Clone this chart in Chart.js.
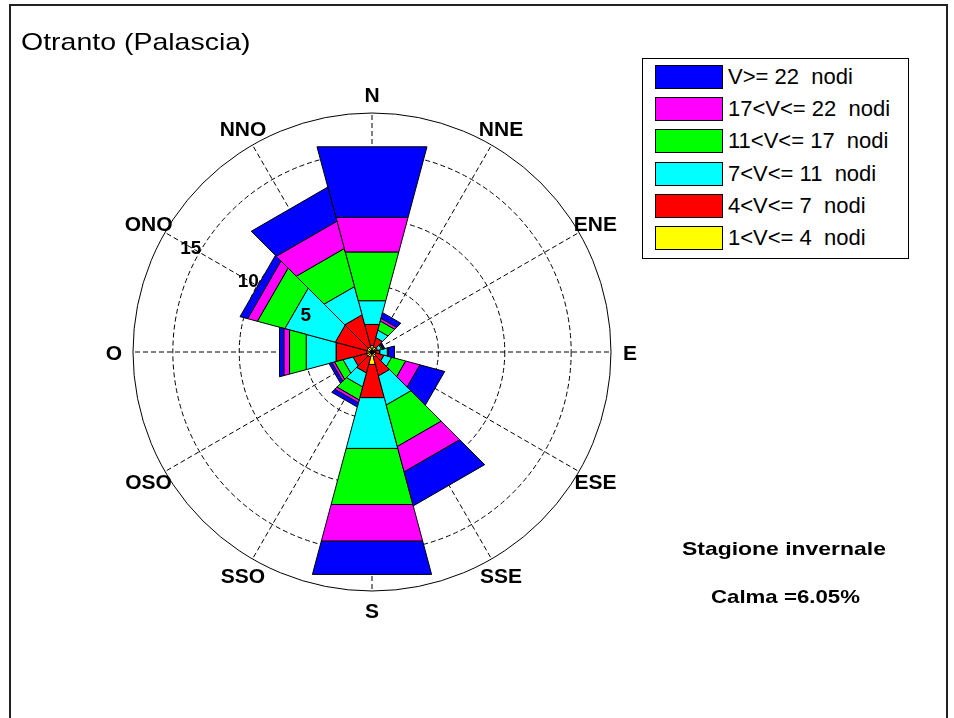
<!DOCTYPE html>
<html>
<head>
<meta charset="utf-8">
<script src="https://cdn.jsdelivr.net/npm/chart.js@4.4.1/dist/chart.umd.min.js"></script>
<style>
  html, body { margin: 0; padding: 0; background: #fff; width: 954px; height: 718px; overflow: hidden;
    font-family: "Liberation Sans", Arial, sans-serif; color: #000; }
  #frame { position: absolute; left: 9px; top: 4px; width: 939px; height: 800px;
    border: 2px solid #222; border-bottom: none; box-sizing: border-box; }
  #wrap { position: absolute; left: 0; top: 0; width: 954px; height: 718px; }
  .txt { position: absolute; white-space: pre; transform-origin: 0 0; }
  #title { left: 20.5px; top: 29.7px; font-size: 24px; line-height: 24px; transform: scaleX(1.187); }
  #season { left: 682px; top: 538.9px; font-size: 19px; line-height: 19px; font-weight: bold; transform: scaleX(1.207); }
  #calm { left: 711px; top: 587.4px; font-size: 19px; line-height: 19px; font-weight: bold; transform: scaleX(1.17); }
  #legend { position: absolute; left: 642px; top: 58px; width: 267px; height: 201px;
    border: 1px solid #000; box-sizing: border-box; background: #fff; }
  .lg-box { position: absolute; left: 12px; width: 68px; height: 24px; border: 1px solid #000; box-sizing: border-box; }
  .lg-txt { position: absolute; left: 85px; font-size: 22px; line-height: 24px; white-space: pre; }
</style>
</head>
<body>
<div id="frame"></div>
<div id="wrap"><canvas id="c"></canvas></div>
<div id="title" class="txt"></div>
<div id="season" class="txt"></div>
<div id="calm" class="txt"></div>
<div id="legend"></div>
<script>
// ---------------- data ----------------
const directions = ['N', 'NNE', 'ENE', 'E', 'ESE', 'SSE', 'S', 'SSO', 'OSO', 'O', 'ONO', 'NNO'];
const classLabels = ['V>= 22  nodi', '17<V<= 22  nodi', '11<V<= 17  nodi', '7<V<= 11  nodi', '4<V<= 7  nodi', '1<V<= 4  nodi'];
const classColors = ['#0000FF', '#FF00FF', '#00FF00', '#00FFFF', '#FF0000', '#FFFF00'];
// frequency (%) per direction for each speed class (outermost class first)
const freqOver22  = [5.50, 0.44, 0.10, 0.46, 1.93, 2.65, 2.59, 0.32, 0.23, 0.34, 0.59, 2.66];
const freq17to22  = [2.70, 0.21, 0.05, 0.04, 1.11, 1.98, 2.86, 0.23, 0.20, 0.44, 0.76, 2.13];
const freq11to17  = [3.80, 0.71, 0.10, 0.05, 1.09, 3.23, 4.37, 1.01, 0.66, 1.30, 2.14, 2.97];
const freq7to11   = [1.85, 0.59, 0.30, 0.58, 0.60, 2.27, 3.96, 1.09, 0.78, 2.33, 3.94, 2.20];
const freq4to7    = [1.65, 0.72, 0.25, 0.37, 0.64, 1.47, 2.59, 1.24, 1.03, 2.40, 2.46, 2.50];
const freq1to4    = [0.50, 0.40, 0.20, 0.25, 0.30, 0.40, 0.97, 0.40, 0.45, 0.40, 0.40, 0.40];
const seriesValues = [freqOver22, freq17to22, freq11to17, freq7to11, freq4to7, freq1to4];
const gridTicks = [0, 5, 10, 15, 18];
const tickLabels = [5, 10, 15];
const scaleMax = 18;
const tickLabelDirection = 'ONO';
const titleText = 'Otranto (Palascia)';
const seasonText = 'Stagione invernale';
const calmText = 'Calma =6.05%';

// ---------------- wind-rose controller (stacked straight-edged sectors) ----------------
class WindRoseController extends Chart.PolarAreaController {
  updateElements(arcs, start, count, mode) {
    const scale = this._cachedMeta.rScale;
    const all = this.chart.data.datasets;
    const n = this.chart.data.labels.length;
    const half = Math.PI / n;
    for (let i = start; i < start + count; i++) {
      let base = 0;
      for (let j = this.index + 1; j < all.length; j++) base += all[j].data[i];
      const v = this.getParsed(i).r;
      const mid = scale.getIndexAngle(i) - Math.PI / 2;
      this.updateElement(arcs[i], i, {
        x: scale.xCenter, y: scale.yCenter,
        startAngle: mid - half, endAngle: mid + half, circumference: 2 * half,
        innerRadius: scale.getDistanceFromCenterForValue(base),
        outerRadius: scale.getDistanceFromCenterForValue(base + v),
        options: this.resolveDataElementOptions(i, mode)
      }, mode);
    }
  }
  draw() {
    const ctx = this.chart.ctx;
    ctx.save();
    for (const el of this._cachedMeta.data) {
      const o = el.options;
      const {x, y, startAngle: a0, endAngle: a1, innerRadius: r0, outerRadius: r1} = el;
      if (!(r1 > r0)) continue;
      ctx.beginPath();
      ctx.moveTo(x + r0 * Math.cos(a0), y + r0 * Math.sin(a0));
      ctx.lineTo(x + r1 * Math.cos(a0), y + r1 * Math.sin(a0));
      ctx.lineTo(x + r1 * Math.cos(a1), y + r1 * Math.sin(a1));
      ctx.lineTo(x + r0 * Math.cos(a1), y + r0 * Math.sin(a1));
      ctx.closePath();
      ctx.fillStyle = o.backgroundColor;
      ctx.fill();
      ctx.lineWidth = o.borderWidth;
      ctx.strokeStyle = o.borderColor;
      ctx.lineJoin = 'miter';
      ctx.stroke();
    }
    ctx.restore();
  }
}
WindRoseController.id = 'windRose';
WindRoseController.defaults = Chart.PolarAreaController.defaults;
WindRoseController.overrides = Chart.PolarAreaController.overrides;
Chart.register(WindRoseController);

const FONT = '"Liberation Sans", Arial, sans-serif';
const CAP = 0.716; // cap height / em for Arial-metric fonts
function capText(ctx, text, cx, cy, size) {
  ctx.fillText(text, cx, cy + CAP * size / 2);
}
const roseLabels = {
  id: 'roseLabels',
  afterDatasetsDraw(chart) {
    const s = chart.scales.r;
    const ctx = chart.ctx;
    ctx.save();
    ctx.fillStyle = '#000';
    ctx.textAlign = 'center';
    ctx.textBaseline = 'alphabetic';
    ctx.font = 'bold 21px ' + FONT;
    chart.data.labels.forEach((lab, i) => {
      const p = s.getPointPosition(i, s.drawingArea + 19);
      capText(ctx, lab, p.x, p.y, 21);
    });
    const ti = chart.data.labels.indexOf(tickLabelDirection);
    ctx.font = 'bold 19px ' + FONT;
    tickLabels.forEach(v => {
      const p = s.getPointPosition(ti, s.getDistanceFromCenterForValue(v) + 10);
      capText(ctx, String(v), p.x, p.y, 19);
    });
    ctx.restore();
  }
};

const chart = new Chart(document.getElementById('c'), {
  type: 'windRose',
  data: {
    labels: directions,
    datasets: seriesValues.map((d, k) => ({
      label: classLabels[k], data: d,
      backgroundColor: classColors[k], borderColor: '#000', borderWidth: 1
    }))
  },
  options: {
    responsive: true, maintainAspectRatio: false, animation: false,
    layout: { padding: { left: 133, top: 113, right: 342, bottom: 126 } },
    plugins: { legend: { display: false }, title: { display: false }, tooltip: { enabled: false } },
    events: [],
    scales: {
      r: {
        min: 0, max: scaleMax, startAngle: 0,
        afterBuildTicks: (scale) => { scale.ticks = gridTicks.map(v => ({ value: v })); },
        ticks: { display: false },
        grid: { display: true, circular: true, color: '#000', lineWidth: 1 },
        border: { dash: (c) => (c.tick && c.tick.value === scaleMax) ? [] : [5, 3] },
        angleLines: { display: true, color: '#000', lineWidth: 1, borderDash: [5, 3] },
        pointLabels: { display: false }
      }
    }
  },
  plugins: [roseLabels]
});

// texts
document.getElementById('title').textContent = titleText;
document.getElementById('season').textContent = seasonText;
document.getElementById('calm').textContent = calmText;

// legend built from the chart's datasets
const lg = document.getElementById('legend');
chart.data.datasets.forEach((ds, i) => {
  const top = 6 + i * 32.2;
  const box = document.createElement('div');
  box.className = 'lg-box';
  box.style.top = top + 'px';
  box.style.background = ds.backgroundColor;
  const t = document.createElement('div');
  t.className = 'lg-txt';
  t.style.top = top + 'px';
  t.textContent = ds.label;
  lg.appendChild(box);
  lg.appendChild(t);
});
</script>
</body>
</html>
